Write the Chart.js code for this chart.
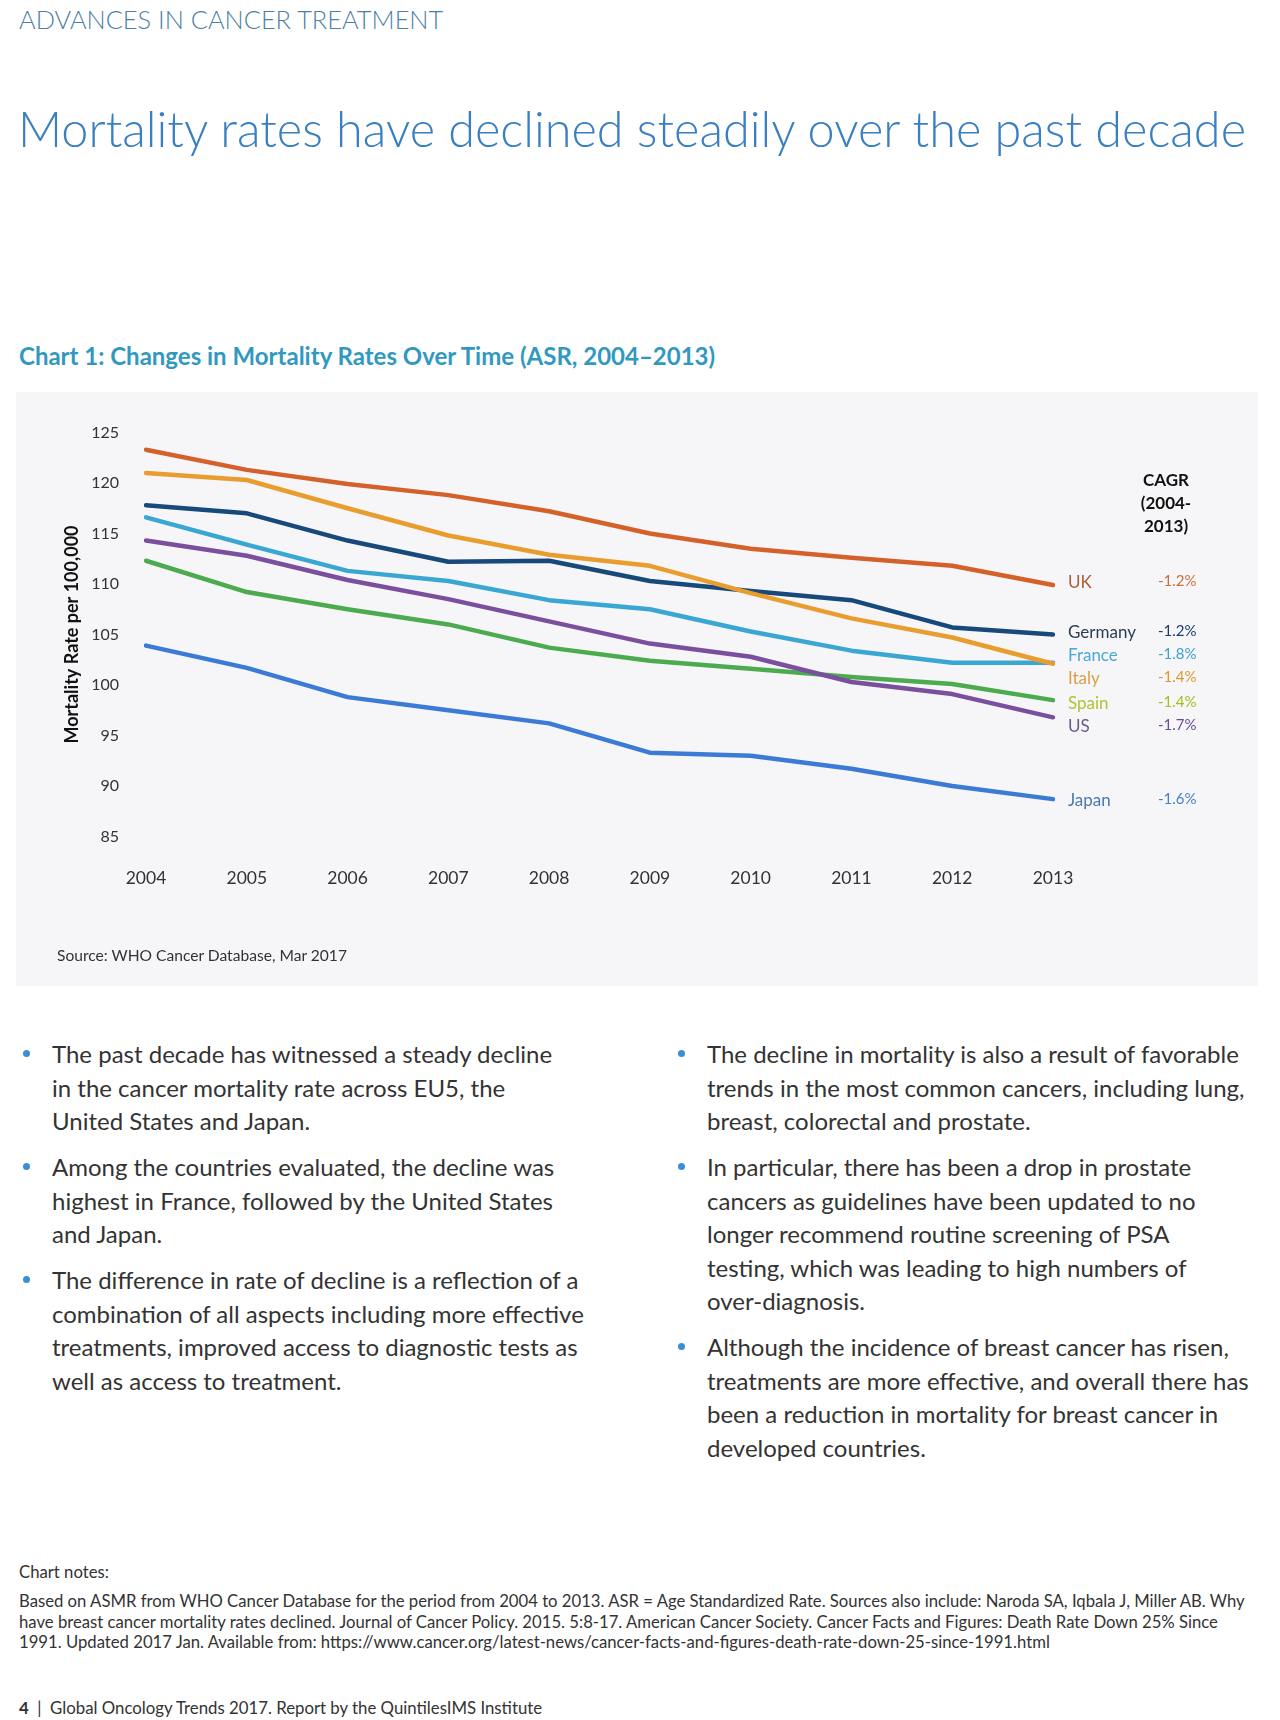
<!DOCTYPE html>
<html>
<head>
<meta charset="utf-8">
<script src="https://cdn.jsdelivr.net/npm/chart.js@4"></script>
<style>
  body { margin: 0; background: #fff; font-family: Lato, "Open Sans", sans-serif; color: #333; }
  #page { position: relative; width: 1280px; height: 1720px; overflow: hidden; }
  .abs { position: absolute; white-space: nowrap; }
  #kicker { left: 19px; top: 4px; font-size: 25.4px; font-weight: 300; color: #4f7fa6; line-height: 30px; }
  #headline { left: 18px; top: 99px; font-size: 48.6px; font-weight: 300; color: #3a7fc1; line-height: 58px; }
  #chartTitle { left: 19px; top: 341px; font-size: 24px; font-weight: 700; color: #3199bf; line-height: 30px; }
  #panel { position: absolute; left: 16px; top: 392px; width: 1242px; height: 594px; background: #f6f6f8; }
  #panel canvas { position: absolute; left: 0; top: 0; }
  #source { left: 57px; top: 945px; font-size: 15.6px; line-height: 20px; color: #333; }
  .lbl { position: absolute; font-size: 17px; line-height: 20px; white-space: nowrap; }
  #cagrHead { left: 1126px; top: 468px; width: 80px; text-align: center; font-size: 17px; font-weight: 700; line-height: 23px; color: #111; }
  .col { position: absolute; top: 1037px; font-size: 24px; line-height: 33.5px; color: #333; }
  .col p { position: relative; margin: 0 0 12.6px 0; padding-left: 33px; white-space: nowrap; }
  .col p::before { content: ""; position: absolute; left: 4px; top: 13px; width: 7px; height: 7px; border-radius: 50%; background: #3a8fd4; }
  #notesHead { left: 19px; top: 1561px; font-size: 16.7px; line-height: 22px; }
  #notes { left: 19px; top: 1591px; font-size: 16.7px; line-height: 20.7px; }
  #footer { left: 19px; top: 1697px; font-size: 16.8px; line-height: 22px; }
</style>
</head>
<body>
<div id="page">
  <div id="kicker" class="abs">ADVANCES IN CANCER TREATMENT</div>
  <div id="headline" class="abs">Mortality rates have declined steadily over the past decade</div>
  <div id="chartTitle" class="abs">Chart 1: Changes in Mortality Rates Over Time (ASR, 2004–2013)</div>

  <div id="panel"><canvas id="chart" width="1242" height="594"></canvas></div>
  <div id="source" class="abs">Source: WHO Cancer Database, Mar 2017</div>

  <div id="cagrHead" class="abs">CAGR<br>(2004-<br>2013)</div>
  <div id="labels"></div>

  <div class="col" style="left:19px;">
    <p>The past decade has witnessed a steady decline<br>in the cancer mortality rate across EU5, the<br>United States and Japan.</p>
    <p>Among the countries evaluated, the decline was<br>highest in France, followed by the United States<br>and Japan.</p>
    <p>The difference in rate of decline is a reflection of a<br>combination of all aspects including more effective<br>treatments, improved access to diagnostic tests as<br>well as access to treatment.</p>
  </div>
  <div class="col" style="left:674px;">
    <p>The decline in mortality is also a result of favorable<br>trends in the most common cancers, including lung,<br>breast, colorectal and prostate.</p>
    <p>In particular, there has been a drop in prostate<br>cancers as guidelines have been updated to no<br>longer recommend routine screening of PSA<br>testing, which was leading to high numbers of<br>over-diagnosis.</p>
    <p>Although the incidence of breast cancer has risen,<br>treatments are more effective, and overall there has<br>been a reduction in mortality for breast cancer in<br>developed countries.</p>
  </div>

  <div id="notesHead" class="abs">Chart notes:</div>
  <div id="notes" class="abs">Based on ASMR from WHO Cancer Database for the period from 2004 to 2013. ASR = Age Standardized Rate. Sources also include: Naroda SA, Iqbala J, Miller AB. Why<br>have breast cancer mortality rates declined. Journal of Cancer Policy. 2015. 5:8-17. American Cancer Society. Cancer Facts and Figures: Death Rate Down 25% Since<br>1991. Updated 2017 Jan. Available from: https://www.cancer.org/latest-news/cancer-facts-and-figures-death-rate-down-25-since-1991.html</div>
  <div id="footer" class="abs"><b>4</b> &nbsp;|&nbsp; Global Oncology Trends 2017. Report by the QuintilesIMS Institute</div>
</div>

<script>
// Data
const years = ['2004', '2005', '2006', '2007', '2008', '2009', '2010', '2011', '2012', '2013'];
const countries = ['UK', 'Italy', 'Germany', 'France', 'US', 'Spain', 'Japan'];
const uk      = [123.3, 121.3, 119.9, 118.8, 117.2, 115.0, 113.5, 112.6, 111.8, 109.9];
const italy   = [121.0, 120.3, 117.5, 114.8, 112.9, 111.8, 109.1, 106.6, 104.7, 102.1];
const germany = [117.8, 117.0, 114.3, 112.2, 112.3, 110.3, 109.3, 108.4, 105.7, 105.0];
const france  = [116.6, 113.9, 111.3, 110.3, 108.4, 107.5, 105.3, 103.4, 102.2, 102.2];
const us      = [114.3, 112.8, 110.4, 108.5, 106.3, 104.1, 102.8, 100.3, 99.1, 96.8];
const spain   = [112.3, 109.2, 107.5, 106.0, 103.7, 102.4, 101.6, 100.8, 100.1, 98.5];
const japan   = [103.9, 101.7, 98.8, 97.5, 96.2, 93.3, 93.0, 91.7, 90.0, 88.7];
const cagr    = ['-1.2%', '-1.4%', '-1.2%', '-1.8%', '-1.7%', '-1.4%', '-1.6%'];
const yTicks  = [85, 90, 95, 100, 105, 110, 115, 120, 125];

const lineColors  = ['#d5612a', '#e89d2e', '#17497b', '#3aa7d2', '#7a4f9e', '#4cab4f', '#3b7bd6'];
const labelColors = ['#a8603a', '#d9a046', '#2b3b52', '#4aa9d2', '#6b5b8b', '#b3c233', '#4a78b0'];
const cagrColors  = ['#c9703e', '#d99a32', '#1c3c6c', '#3ba2cb', '#6d4b93', '#a9ba22', '#4a80c4'];

// label placement (page px), spread so they do not overlap
const labelTops = { UK: 582, Germany: 632, France: 655, Italy: 678, Spain: 703, US: 726, Japan: 800 };

const seriesData = [uk, italy, germany, france, us, spain, japan];

const holder = document.getElementById('labels');
countries.forEach(function(name, i) {
    const y = labelTops[name];
    const a = document.createElement('div');
    a.className = 'lbl';
    a.style.left = '1068px';
    a.style.top = (y - 10) + 'px';
    a.style.color = labelColors[i];
    a.textContent = name;
    holder.appendChild(a);
    const b = document.createElement('div');
    b.className = 'lbl';
    b.style.left = '1158px';
    b.style.top = (y - 12) + 'px';
    b.style.fontSize = '15px';
    b.style.color = cagrColors[i];
    b.textContent = cagr[i];
    holder.appendChild(b);
});

const ctx = document.getElementById('chart').getContext('2d');

new Chart(ctx, {
    type: 'line',
    data: {
        labels: years,
        datasets: countries.map(function(name, i) {
            return {
                label: name,
                data: seriesData[i],
                borderColor: lineColors[i],
                backgroundColor: lineColors[i],
                borderWidth: 4.5,
                pointRadius: 0,
                tension: 0,
                borderCapStyle: 'round',
                borderJoinStyle: 'round'
            };
        })
    },
    options: {
        responsive: false,
        animation: false,
        layout: { padding: { left: 0, right: 205, top: 40.5, bottom: 0 } },
        plugins: { legend: { display: false }, tooltip: { enabled: false } },
        scales: {
            x: {
                offset: false,
                grid: { display: false, drawTicks: false },
                border: { display: false },
                ticks: { color: '#333', font: { family: 'Lato', size: 17.5 }, padding: 31, maxRotation: 0 },
                afterFit: function(scale) { scale.height = 149.5; }
            },
            y: {
                min: 85,
                max: 125,
                grid: { display: false, drawTicks: false },
                border: { display: false },
                afterBuildTicks: function(scale) { scale.ticks = yTicks.map(function(v) { return { value: v }; }); },
                ticks: { color: '#333', font: { family: 'Lato', size: 16 }, padding: 27 },
                title: {
                    display: true,
                    text: 'Mortality Rate per 100,000',
                    color: '#111',
                    font: { family: 'Lato', size: 18, weight: 'bold' },
                    padding: { top: 45, bottom: 0 }
                },
                afterFit: function(scale) { scale.width = 130; }
            }
        }
    }
});
</script>
</body>
</html>
